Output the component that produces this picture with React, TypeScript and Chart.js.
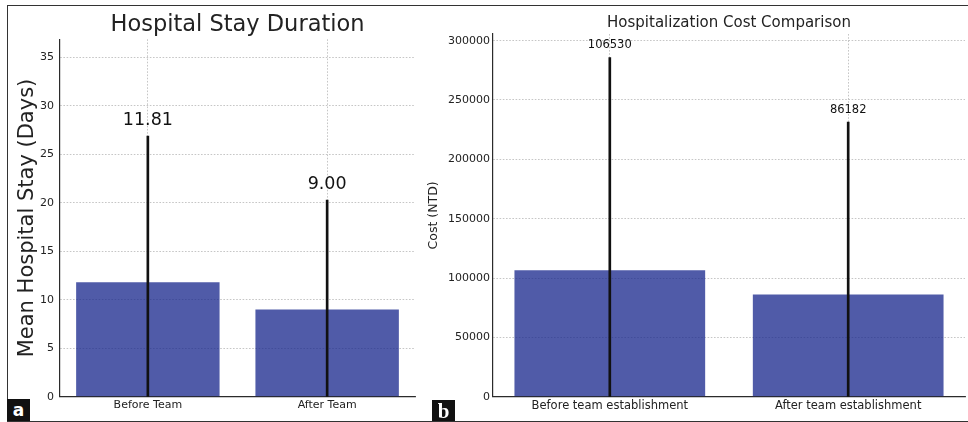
import React, { useEffect, useRef } from "react";
import { Chart, registerables } from "chart.js";

Chart.register(...registerables);
Chart.defaults.font.family = "'DejaVu Sans', sans-serif";

// ---- Panel a: hospital stay ----
const stayCategories = ["Before Team", "After Team"];
const stayMeans = [11.81, 9.0];
const stayErrors = [15.07, 11.28];
const stayTicks = [0, 5, 10, 15, 20, 25, 30, 35];
const stayMax = 36.86;

// ---- Panel b: hospitalization cost ----
const costCategories = ["Before team establishment", "After team establishment"];
const costMeans = [106530, 86182];
const costErrors = [179170, 145120];
const costTicks = [0, 50000, 100000, 150000, 200000, 250000, 300000];
const costMax = 305600;

const BAR_COLOR = "rgba(25,40,140,0.76)";
const GRID_COLOR = "rgba(165,165,165,0.8)";
const AXIS_COLOR = "#2b2b2b";
const TEXT_COLOR = "#222";

type PanelSpec = {
  categories: string[];
  means: number[];
  errors: number[];
  ticks: number[];
  yMax: number;
  title: string;
  titleSize: number;
  titlePad: { top: number; bottom: number };
  yTitle: string;
  yTitleSize: number;
  yTitlePad: number;
  yWidth: number;
  yTickSize: number;
  yTickPad: number;
  xTickSize: number;
  xHeight: number;
  padRight: number;
  labelSize: number;
  labelOffset: number;
  format: (v: number) => string;
};

function buildConfig(s: PanelSpec): any {
  const valueLabels = {
    id: "valueLabels",
    afterDatasetsDraw(chart: any) {
      const ctx = chart.ctx;
      const xs = chart.scales.x;
      const ys = chart.scales.y;
      ctx.save();
      ctx.fillStyle = "#111";
      ctx.font = `${s.labelSize}px 'DejaVu Sans', sans-serif`;
      ctx.textAlign = "center";
      ctx.textBaseline = "middle";
      s.means.forEach((m, i) => {
        const x = xs.getPixelForValue(i);
        const y = ys.getPixelForValue(m + s.errors[i]) - s.labelOffset;
        ctx.fillText(s.format(m), x, y);
      });
      ctx.restore();
    },
  };

  return {
    type: "bar",
    data: {
      datasets: [
        {
          label: "error",
          data: s.means.map((m, i) => ({ x: i, y: [m - s.errors[i], m + s.errors[i]] })),
          backgroundColor: "#111",
          barThickness: 2,
          grouped: false,
          order: 0,
          clip: 0,
          borderWidth: 0,
        },
        {
          label: "mean",
          data: s.means.map((m, i) => ({ x: i, y: m })),
          backgroundColor: BAR_COLOR,
          borderWidth: 0,
          barPercentage: 0.8,
          categoryPercentage: 1,
          grouped: false,
          order: 1,
          clip: 0,
        },
      ],
    },
    options: {
      responsive: false,
      animation: false,
      maintainAspectRatio: false,
      layout: { padding: { left: 0, right: s.padRight, top: 0, bottom: 0 } },
      plugins: {
        legend: { display: false },
        tooltip: { enabled: false },
        title: {
          display: true,
          text: s.title,
          fullSize: false,
          color: TEXT_COLOR,
          font: { size: s.titleSize, weight: "normal" },
          padding: s.titlePad,
        },
      },
      scales: {
        x: {
          type: "linear",
          min: -0.49,
          max: 1.49,
          offset: false,
          afterBuildTicks(scale: any) {
            scale.ticks = s.categories.map((_, i) => ({ value: i }));
          },
          afterFit(scale: any) {
            scale.height = s.xHeight;
          },
          ticks: {
            color: TEXT_COLOR,
            font: { size: s.xTickSize },
            padding: 2,
            maxRotation: 0,
            autoSkip: false,
            callback: (v: number) => s.categories[Math.round(v)],
          },
          grid: {
            offset: false,
            color: GRID_COLOR,
            lineWidth: 0.8,
            drawTicks: false,
          },
          border: { display: true, color: AXIS_COLOR, width: 1.2, dash: [1.6, 1.6] },
        },
        y: {
          type: "linear",
          min: 0,
          max: s.yMax,
          afterBuildTicks(scale: any) {
            scale.ticks = s.ticks.map((v) => ({ value: v }));
          },
          afterFit(scale: any) {
            scale.width = s.yWidth;
          },
          ticks: {
            color: TEXT_COLOR,
            font: { size: s.yTickSize },
            padding: s.yTickPad,
            callback: (v: number) => String(v),
          },
          grid: {
            color: GRID_COLOR,
            lineWidth: 0.8,
            drawTicks: false,
          },
          border: { display: true, color: AXIS_COLOR, width: 1.2, dash: [1.6, 1.6] },
          title: {
            display: true,
            text: s.yTitle,
            color: TEXT_COLOR,
            font: { size: s.yTitleSize },
            padding: { top: s.yTitlePad, bottom: 0 },
          },
        },
      },
    },
    plugins: [valueLabels],
  };
}

function Panel(props: { spec: PanelSpec; left: number; top: number; width: number; height: number }) {
  const ref = useRef<HTMLCanvasElement | null>(null);
  useEffect(() => {
    if (!ref.current) return;
    const chart = new Chart(ref.current, buildConfig(props.spec));
    return () => chart.destroy();
  }, []);
  return (
    <canvas
      ref={ref}
      width={props.width}
      height={props.height}
      style={{
        position: "absolute",
        left: props.left,
        top: props.top,
        width: props.width,
        height: props.height,
      }}
    />
  );
}

const staySpec: PanelSpec = {
  categories: stayCategories,
  means: stayMeans,
  errors: stayErrors,
  ticks: stayTicks,
  yMax: stayMax,
  title: "Hospital Stay Duration",
  titleSize: 22.5,
  titlePad: { top: 5.5, bottom: 0.8 },
  yTitle: "Mean Hospital Stay (Days)",
  yTitleSize: 21,
  yTitlePad: 7,
  yWidth: 52,
  yTickSize: 11,
  yTickPad: 6,
  xTickSize: 11,
  xHeight: 23.3,
  padRight: 3,
  labelSize: 17.5,
  labelOffset: 16,
  format: (v) => v.toFixed(2),
};

const costSpec: PanelSpec = {
  categories: costCategories,
  means: costMeans,
  errors: costErrors,
  ticks: costTicks,
  yMax: costMax,
  title: "Hospitalization Cost Comparison",
  titleSize: 15,
  titlePad: { top: 8, bottom: 2 },
  yTitle: "Cost (NTD)",
  yTitleSize: 12.5,
  yTitlePad: 6.5,
  yWidth: 73,
  yTickSize: 11,
  yTickPad: 3,
  xTickSize: 11.5,
  xHeight: 23.3,
  padRight: 3,
  labelSize: 11.5,
  labelOffset: 12.5,
  format: (v) => String(Math.round(v)),
};

export default function App() {
  return (
    <div
      style={{
        position: "fixed",
        left: 0,
        top: 0,
        width: 968,
        height: 422,
        background: "#fff",
        overflow: "hidden",
      }}
    >
      <div
        style={{
          position: "absolute",
          left: 7,
          top: 4.5,
          width: 961,
          height: 415,
          borderTop: "1.5px solid #333",
          borderLeft: "1.5px solid #333",
          borderBottom: "1.5px solid #333",
        }}
      />
      <Panel spec={staySpec} left={8} top={6} width={410} height={414} />
      <Panel spec={costSpec} left={420} top={6} width={548} height={414} />
      <div
        style={{
          position: "absolute",
          left: 7,
          top: 399,
          width: 23,
          height: 22,
          background: "#111",
          color: "#fff",
          fontFamily: "'DejaVu Sans', sans-serif",
          fontWeight: "bold",
          fontSize: 17,
          lineHeight: "22px",
          textAlign: "center",
        }}
      >
        a
      </div>
      <div
        style={{
          position: "absolute",
          left: 432,
          top: 400,
          width: 23,
          height: 21,
          background: "#111",
          color: "#fff",
          fontFamily: "'Liberation Serif', serif",
          fontWeight: "bold",
          fontSize: 21,
          lineHeight: "22px",
          textAlign: "center",
        }}
      >
        b
      </div>
    </div>
  );
}
